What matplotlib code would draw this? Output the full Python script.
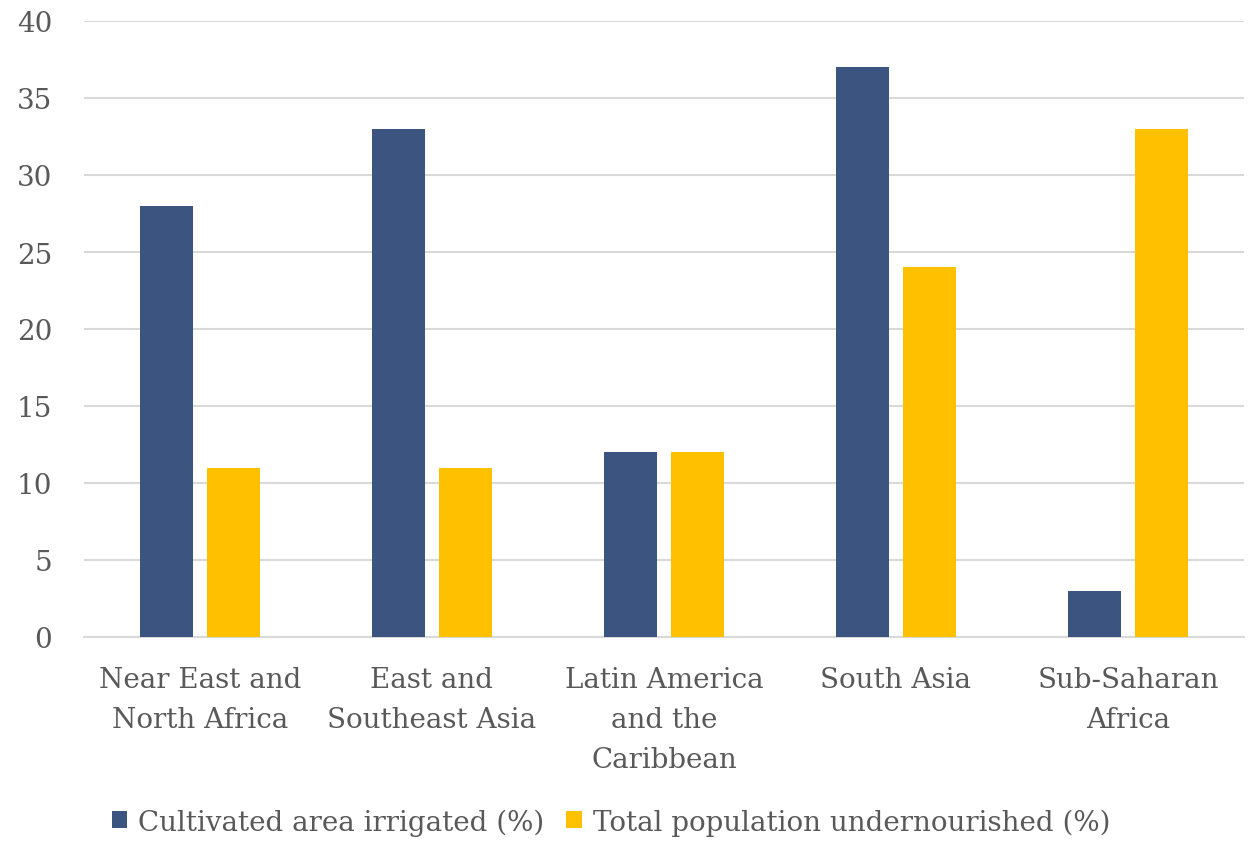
import matplotlib.pyplot as plt
import matplotlib.patches as mpatches
import numpy as np

regions = ['Near East and\nNorth Africa', 'East and\nSoutheast Asia',
           'Latin America\nand the\nCaribbean', 'South Asia', 'Sub-Saharan\nAfrica']
irrigated = [28, 33, 12, 37, 3]
undernourished = [11, 11, 12, 24, 33]
series_names = ['Cultivated area irrigated (%)', 'Total population undernourished (%)']
yticks = [0, 5, 10, 15, 20, 25, 30, 35, 40]

blue = '#3B5580'
gold = '#FFC000'
grey_text = '#595959'
grid_col = '#D9D9D9'

plt.rcParams['font.family'] = ['DejaVu Serif']

fig = plt.figure(figsize=(12.56, 8.45), dpi=100)
ax = fig.add_axes([84 / 1256, 207 / 845, 1160 / 1256, 616 / 845])

x = np.arange(len(regions))
w = 0.228
ax.bar(x - 0.143, irrigated, width=w, color=blue, zorder=3)
ax.bar(x + 0.143, undernourished, width=w, color=gold, zorder=3)

ax.set_xlim(-0.5, len(regions) - 0.5)
ax.set_ylim(0, 40)
ax.set_yticks(yticks)
ax.set_yticklabels([str(t) for t in yticks])
ax.set_xticks(x)
ax.set_xticklabels(regions, linespacing=1.62)
ax.yaxis.grid(True, color=grid_col, linewidth=1.5, zorder=0)
ax.set_axisbelow(True)
for s in ['top', 'right', 'left']:
    ax.spines[s].set_visible(False)
ax.spines['bottom'].set_color(grid_col)
ax.spines['bottom'].set_linewidth(1.5)
ax.tick_params(axis='y', length=0, pad=23, labelsize=20, labelcolor=grey_text)
ax.tick_params(axis='x', length=0, pad=21, labelsize=20, labelcolor=grey_text)

# legend below the chart
handles = [mpatches.Rectangle((0, 0), 1, 1, facecolor=blue),
           mpatches.Rectangle((0, 0), 1, 1, facecolor=gold)]
leg = fig.legend(handles, series_names, loc='center', bbox_to_anchor=(611 / 1256, 1 - 823 / 845),
                 ncol=2, frameon=False, fontsize=20, handlelength=0.55, handleheight=0.55,
                 handletextpad=0.4, columnspacing=0.8)
for t in leg.get_texts():
    t.set_color(grey_text)

fig.savefig('out.png', dpi=100)
